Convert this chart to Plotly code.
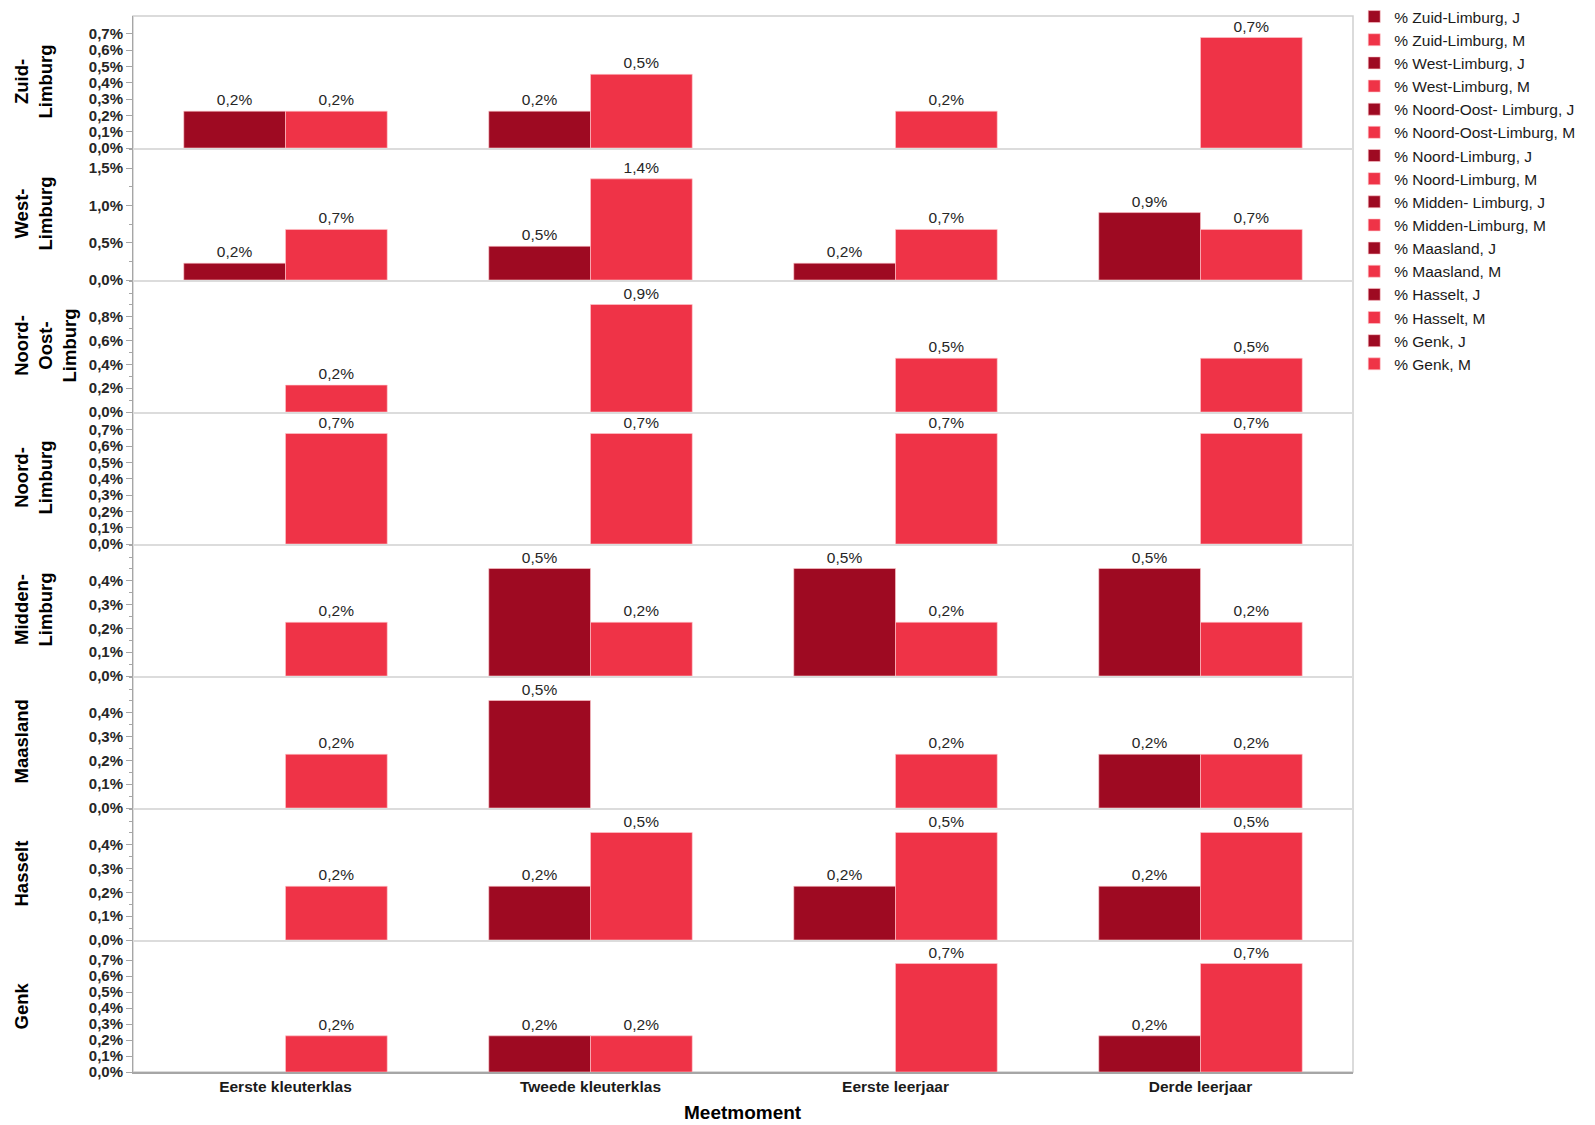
import plotly.graph_objects as go
from plotly.subplots import make_subplots

# Meetmomenten (x-as)
moments = ["Eerste kleuterklas", "Tweede kleuterklas", "Eerste leerjaar", "Derde leerjaar"]

# Rijen (regio's) en hun aslabels
row_titles = ["Zuid-<br>Limburg", "West-<br>Limburg", "Noord-<br>Oost-<br>Limburg", "Noord-<br>Limburg",
              "Midden-<br>Limburg", "Maasland", "Hasselt", "Genk"]

# Legendanamen
names_j = ["% Zuid-Limburg, J", "% West-Limburg, J", "% Noord-Oost- Limburg, J", "% Noord-Limburg, J",
           "% Midden- Limburg, J", "% Maasland, J", "% Hasselt, J", "% Genk, J"]
names_m = ["% Zuid-Limburg, M", "% West-Limburg, M", "% Noord-Oost-Limburg, M", "% Noord-Limburg, M",
           "% Midden-Limburg, M", "% Maasland, M", "% Hasselt, M", "% Genk, M"]

# Percentages per regio (J = jongens, M = meisjes); None = geen waarde
zuid_j = [0.226, 0.226, None, None]
zuid_m = [0.226, 0.452, 0.226, 0.678]
west_j = [0.226, 0.452, 0.226, 0.904]
west_m = [0.678, 1.356, 0.678, 0.678]
noordoost_j = [None, None, None, None]
noordoost_m = [0.226, 0.904, 0.452, 0.452]
noord_j = [None, None, None, None]
noord_m = [0.678, 0.678, 0.678, 0.678]
midden_j = [None, 0.452, 0.452, 0.452]
midden_m = [0.226, 0.226, 0.226, 0.226]
maasland_j = [None, 0.452, None, 0.226]
maasland_m = [0.226, None, 0.226, 0.226]
hasselt_j = [None, 0.226, 0.226, 0.226]
hasselt_m = [0.226, 0.452, 0.452, 0.452]
genk_j = [None, 0.226, None, 0.226]
genk_m = [0.226, 0.226, 0.678, 0.678]

series_j = [zuid_j, west_j, noordoost_j, noord_j, midden_j, maasland_j, hasselt_j, genk_j]
series_m = [zuid_m, west_m, noordoost_m, noord_m, midden_m, maasland_m, hasselt_m, genk_m]

# As-instellingen per rij
y_max = [0.81, 1.77, 1.11, 0.81, 0.555, 0.555, 0.555, 0.825]
tick_sets = [
    [0.0, 0.1, 0.2, 0.3, 0.4, 0.5, 0.6, 0.7],
    [0.0, 0.5, 1.0, 1.5],
    [0.0, 0.2, 0.4, 0.6, 0.8],
    [0.0, 0.1, 0.2, 0.3, 0.4, 0.5, 0.6, 0.7],
    [0.0, 0.1, 0.2, 0.3, 0.4],
    [0.0, 0.1, 0.2, 0.3, 0.4],
    [0.0, 0.1, 0.2, 0.3, 0.4],
    [0.0, 0.1, 0.2, 0.3, 0.4, 0.5, 0.6, 0.7],
]
minor_steps = [None, 0.25, 0.1, None, 0.05, 0.05, 0.05, None]

DARK = "#9E0A22"
RED = "#EF3347"
FONT = "Arial, Liberation Sans, sans-serif"
AXIS_GREY = "#a6a6a6"
SEP_GREY = "#dcdcdc"

W, H = 1595, 1125
L, R, T, B = 133, 242, 0, 53
PLOT_TOP_PX = 16
plot_w = W - L - R
paper_h = H - T - B
top = 1 - PLOT_TOP_PX / paper_h
row_h = top / 8


def pct(v):
    return f"{v:.1f}%".replace(".", ",")


fig = make_subplots(rows=8, cols=1, shared_xaxes=True, vertical_spacing=0)

for i in range(8):
    r = i + 1
    for vals, name, color in ((series_j[i], names_j[i], DARK), (series_m[i], names_m[i], RED)):
        fig.add_trace(
            go.Bar(
                x=moments,
                y=vals,
                name=name,
                marker=dict(color=color, line=dict(color="rgba(255,200,205,0.6)", width=1)),
                text=[pct(v) if v else "" for v in vals],
                textposition="outside",
                textfont=dict(size=15.5, color="#262626", family=FONT),
                cliponaxis=False,
                constraintext="none",
            ),
            row=r, col=1,
        )

    minor = dict(ticks="outside", ticklen=3, tickcolor=AXIS_GREY, tickmode="linear",
                 tick0=0, dtick=minor_steps[i], showgrid=False) if minor_steps[i] else dict(ticks="")
    fig.update_yaxes(
        row=r, col=1,
        domain=[top - r * row_h, top - (r - 1) * row_h],
        range=[0, y_max[i]],
        tickmode="array",
        tickvals=tick_sets[i],
        ticktext=[pct(t) for t in tick_sets[i]],
        showline=True, linecolor=AXIS_GREY, linewidth=1,
        ticks="outside", ticklen=6, tickcolor=AXIS_GREY,
        showgrid=False, zeroline=False,
        tickfont=dict(size=15, color="#262626", family=FONT, weight="bold"),
        minor=minor,
        fixedrange=True,
    )
    last = r == 8
    fig.update_xaxes(
        row=r, col=1,
        showline=True,
        linecolor=AXIS_GREY if last else SEP_GREY,
        linewidth=2 if not last else 1.5,
        showgrid=False, zeroline=False, ticks="",
        showticklabels=last,
        tickfont=dict(size=15.5, color="#1a1a1a", family=FONT, weight="bold"),
    )

    yref = "y domain" if r == 1 else f"y{r} domain"
    fig.add_annotation(
        text=f"<b>{row_titles[i]}</b>",
        xref="paper", x=(8 - L) / plot_w, xanchor="left",
        yref=yref, y=0.5, yanchor="middle",
        textangle=-90, showarrow=False, align="center",
        font=dict(size=18.5, color="#000000", family=FONT),
    )

# Kader rond het plotgebied
fig.add_shape(type="rect", xref="paper", yref="paper", x0=0, x1=1, y0=0, y1=top,
              line=dict(color="#cfcfcf", width=1.5), layer="below")

# X-as titel
fig.add_annotation(
    text="<b>Meetmoment</b>", xref="paper", x=0.5, xanchor="center",
    yref="paper", y=-(1112 - (H - B)) / paper_h, yanchor="middle",
    showarrow=False, font=dict(size=19, color="#000000", family=FONT),
)

fig.update_layout(
    width=W, height=H,
    margin=dict(l=L, r=R, t=T, b=B, pad=0),
    paper_bgcolor="white", plot_bgcolor="white",
    barmode="group", bargap=0.333, bargroupgap=0,
    font=dict(family=FONT, color="#1a1a1a"),
    separators=",.",
    showlegend=True,
    legend=dict(
        x=1.001, xanchor="left", y=1.0, yanchor="top",
        font=dict(size=15.5, color="#1a1a1a", family=FONT),
        tracegroupgap=0, bgcolor="rgba(0,0,0,0)", borderwidth=0,
        traceorder="normal", itemclick=False, itemdoubleclick=False,
    ),
)

fig.write_html("out.html")
